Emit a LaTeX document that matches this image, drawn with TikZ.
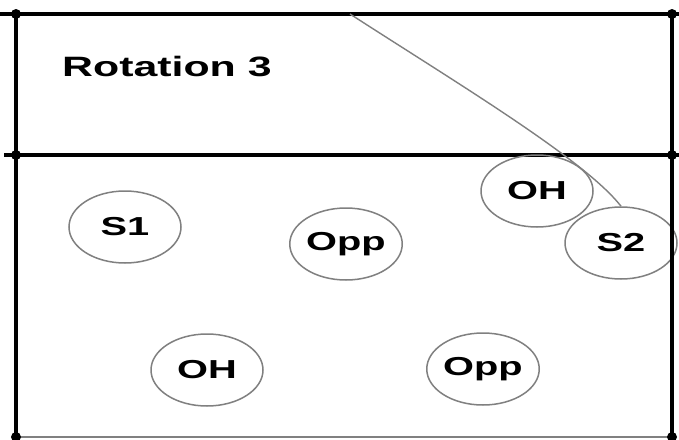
\documentclass[tikz,border=0pt]{standalone}
\usepackage{fontspec}
\usepackage{graphicx}
\setmainfont{Liberation Sans}
\usetikzlibrary{shapes.geometric}
\tikzset{
  court/.style={line width=3.5pt, black},
  courtdot/.style={circle, fill=black, inner sep=0pt, minimum size=10pt},
  player/.style={ellipse, draw=gray, line width=1.5pt, inner sep=0pt,
    minimum width=112pt, minimum height=72pt,
    font=\fontsize{26}{29}\selectfont\bfseries},
  path/.style={draw=gray, line width=1.4pt},
  title/.style={anchor=west, inner sep=0pt, font=\fontsize{28}{32}\selectfont\bfseries}
}
\newcommand{\wide}[1]{\scalebox{1.53}[1]{#1}}
\begin{document}
\begin{tikzpicture}[x=1pt, y=-1pt]
\useasboundingbox (0,0) rectangle (679,439);
\fill[white] (0,0) rectangle (679,439);
% court lines
\coordinate (tl) at (16,14);
\coordinate (tr) at (672,14);
\coordinate (ml) at (16,155);
\coordinate (mr) at (672,155);
\coordinate (bl) at (16,437);
\coordinate (br) at (672,437);
\coordinate (tle) at (0,14);
\coordinate (tre) at (679,14);
\coordinate (mle) at (4,155);
\coordinate (mre) at (679,155);
\draw[court] (tle) -- (tre);
\draw[court] (mle) -- (mre);
\draw[court] (tl) -- (bl);
\draw[gray, line width=1.2pt] (bl) -- (br);
% title
\node[title] (rot) at (62,67) {\wide{Rotation 3}};
% players
\node[player] (s1) at (125,227) {\wide{S1}};
\node[player] (opp1) at (346,244) {\wide{Opp}};
\node[player] (oh1) at (537,191) {\wide{OH}};
\node[player] (s2) at (621,243) {\wide{S2}};
\node[player] (oh2) at (207,370) {\wide{OH}};
\node[player] (opp2) at (483,369) {\wide{Opp}};
% movement path
\coordinate (pstart) at (350,14);
\draw[path] (pstart) .. controls (460,85) and (585,160) .. (s2.north);
\draw[court] (tr) -- (br);
\foreach \p in {tl,tr,ml,mr,bl,br} \node[courtdot] at (\p) {};
\end{tikzpicture}
\end{document}
